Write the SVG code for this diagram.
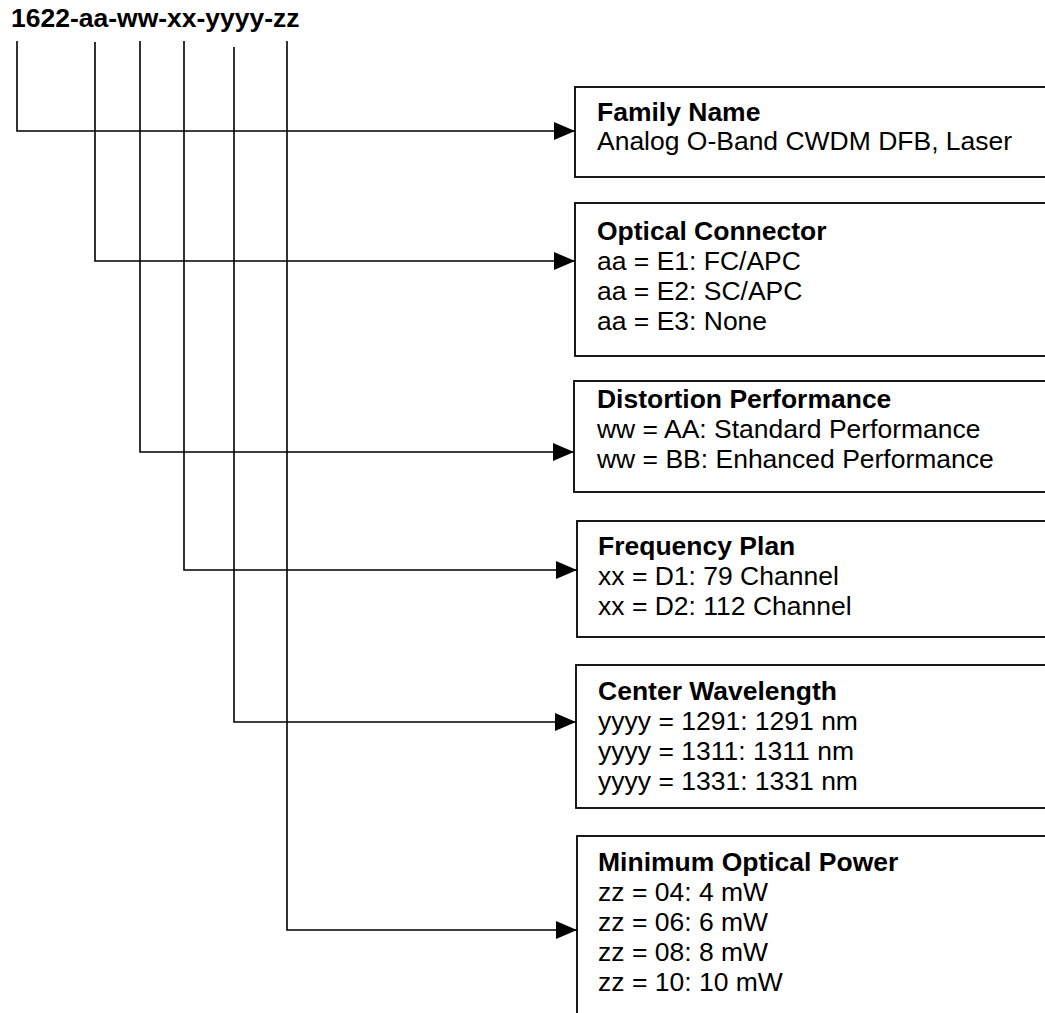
<svg xmlns="http://www.w3.org/2000/svg" width="1045" height="1013" viewBox="0 0 1045 1013">
<style>
  text { font-family: "Liberation Sans", Arial, sans-serif; font-size: 25px; fill: #000; }
  .b { font-weight: bold; }
  .box { fill: #fff; stroke: #000; stroke-width: 1.8; }
  .wire { fill: none; stroke: #000; stroke-width: 1.6; }
</style>
<defs>
  <marker id="arr" viewBox="0 0 21 18" refX="21" refY="9" markerWidth="21" markerHeight="18" markerUnits="userSpaceOnUse" orient="auto">
    <path d="M0,0 L21,9 L0,18 z" fill="#000"/>
  </marker>
</defs>
<rect width="1045" height="1013" fill="#fff"/>
<g id="title">
  <text class="b" transform="scale(1.06,1)" x="10.4" y="27">1622-aa-ww-xx-yyyy-zz</text>
</g>
<g id="connectors">
  <path class="wire" d="M17,41 V131 H575" marker-end="url(#arr)"/>
  <path class="wire" d="M95,42 V261 H575" marker-end="url(#arr)"/>
  <path class="wire" d="M140,41 V452 H574" marker-end="url(#arr)"/>
  <path class="wire" d="M184,41 V570 H577" marker-end="url(#arr)"/>
  <path class="wire" d="M234,47 V722 H576" marker-end="url(#arr)"/>
  <path class="wire" d="M287,41 V930 H577" marker-end="url(#arr)"/>
</g>
<g id="family">
  <rect class="box" x="575" y="87" width="500" height="90"/>
  <g transform="scale(1.06,1)">
    <text class="b" x="563.2" y="121">Family Name</text>
    <text x="563.2" y="150">Analog O-Band CWDM DFB, Laser</text>
  </g>
</g>
<g id="connector">
  <rect class="box" x="575" y="203" width="500" height="153"/>
  <g transform="scale(1.06,1)">
    <text class="b" x="563.2" y="240">Optical Connector</text>
    <text x="563.2" y="270">aa = E1: FC/APC</text>
    <text x="563.2" y="300">aa = E2: SC/APC</text>
    <text x="563.2" y="330">aa = E3: None</text>
  </g>
</g>
<g id="distortion">
  <rect class="box" x="574" y="381" width="500" height="111"/>
  <g transform="scale(1.06,1)">
    <text class="b" x="563.2" y="408">Distortion Performance</text>
    <text x="563.2" y="438">ww = AA: Standard Performance</text>
    <text x="563.2" y="468">ww = BB: Enhanced Performance</text>
  </g>
</g>
<g id="frequency">
  <rect class="box" x="577" y="521" width="500" height="116"/>
  <g transform="scale(1.06,1)">
    <text class="b" x="564.2" y="555">Frequency Plan</text>
    <text x="564.2" y="585">xx = D1: 79 Channel</text>
    <text x="564.2" y="615">xx = D2: 112 Channel</text>
  </g>
</g>
<g id="wavelength">
  <rect class="box" x="576" y="665" width="500" height="143"/>
  <g transform="scale(1.06,1)">
    <text class="b" x="564.2" y="700">Center Wavelength</text>
    <text x="564.2" y="730">yyyy = 1291: 1291 nm</text>
    <text x="564.2" y="760">yyyy = 1311: 1311 nm</text>
    <text x="564.2" y="790">yyyy = 1331: 1331 nm</text>
  </g>
</g>
<g id="power">
  <rect class="box" x="577" y="836" width="500" height="300"/>
  <g transform="scale(1.06,1)">
    <text class="b" x="564.2" y="871">Minimum Optical Power</text>
    <text x="564.2" y="901">zz = 04: 4 mW</text>
    <text x="564.2" y="931">zz = 06: 6 mW</text>
    <text x="564.2" y="961">zz = 08: 8 mW</text>
    <text x="564.2" y="991">zz = 10: 10 mW</text>
  </g>
</g>
</svg>
